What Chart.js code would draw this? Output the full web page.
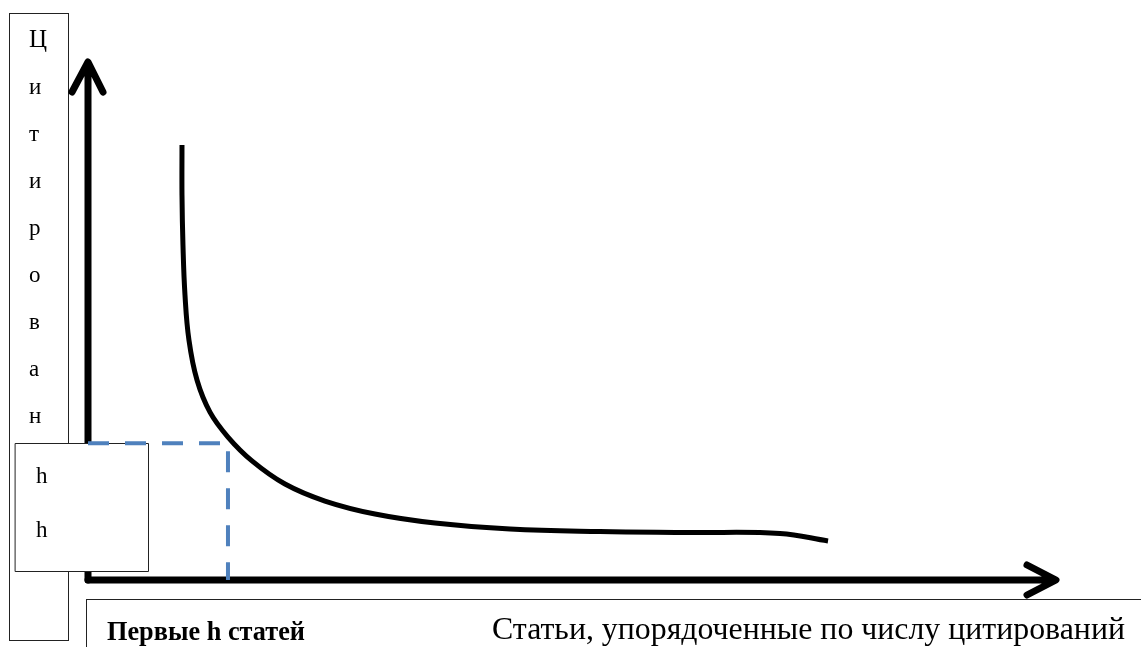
<!DOCTYPE html>
<html>
<head>
<meta charset="utf-8">
<script src="https://cdn.jsdelivr.net/npm/chart.js@4/dist/chart.umd.min.js"></script>
<style>
  body { margin: 0; background: #fff; }
  #wrap { width: 1141px; height: 647px; }
</style>
</head>
<body>
<div id="wrap"><canvas id="hChart" width="1141" height="647"></canvas></div>
<script>
const rankX = [9.71, 9.71, 9.81, 10.02, 10.43, 11.26, 12.6, 14.46, 16.94, 20.35, 24.48, 29.65, 35.85, 43.6, 52.89, 62.19, 71.49, 76.45];
const citations = [84.0, 74.3, 64.7, 55.0, 46.3, 38.6, 32.4, 27.6, 23.0, 18.53, 15.25, 12.74, 11.0, 9.85, 9.36, 9.17, 8.98, 7.53];
// the h point
const hRank = 14.46;
const hCites = 26.4;
// labels
const yLabelLetters = ['Ц', 'и', 'т', 'и', 'р', 'о', 'в', 'а', 'н'];
const hLetters = ['h', 'h'];
const firstLabel = 'Первые h статей';
const xLabel = 'Статьи, упорядоченные по числу цитирований';

function fitText(ctx, txt, x, y, w) {
    const m = ctx.measureText(txt).width;
    ctx.save();
    ctx.translate(x, y);
    ctx.scale(w / m, 1);
    ctx.fillText(txt, 0, 0);
    ctx.restore();
}

// boxes, labels and arrow axes, drawn under the datasets
const schemePlugin = {
    id: 'scheme',
    beforeDatasetsDraw(chart) {
        const ctx = chart.ctx;
        const xs = chart.scales.x, ys = chart.scales.y;
        const x0 = xs.getPixelForValue(0), y0 = ys.getPixelForValue(0);
        const xEnd = xs.getPixelForValue(100), yTop = ys.getPixelForValue(100);
        ctx.save();

        // vertical label box
        ctx.strokeStyle = '#222';
        ctx.lineWidth = 1;
        ctx.strokeRect(9.5, 13.5, 59, 627);
        ctx.fillStyle = '#000';
        ctx.textBaseline = 'alphabetic';
        yLabelLetters.forEach((l, i) => {
            ctx.font = (i === 0 ? '25px' : '23px') + ' "Liberation Serif", serif';
            ctx.fillText(l, 29, 47 + i * 47);
        });

        // bottom label box
        ctx.strokeRect(86.5, 599.5, 1100, 100);
        ctx.font = 'bold 28px "Liberation Serif", serif';
        fitText(ctx, firstLabel, 107, 640, 198);
        ctx.font = '31px "Liberation Serif", serif';
        fitText(ctx, xLabel, 492, 639, 633);

        // axes with arrows
        ctx.strokeStyle = '#000';
        ctx.lineWidth = 7;
        ctx.lineCap = 'round';
        ctx.lineJoin = 'round';
        ctx.beginPath();
        ctx.moveTo(x0, y0);
        ctx.lineTo(x0, yTop + 2);
        ctx.moveTo(x0 - 16, yTop + 30);
        ctx.lineTo(x0, yTop);
        ctx.lineTo(x0 + 15, yTop + 30);
        ctx.stroke();
        ctx.beginPath();
        ctx.moveTo(x0, y0);
        ctx.lineTo(xEnd - 2, y0);
        ctx.moveTo(xEnd - 29, y0 - 15);
        ctx.lineTo(xEnd, y0);
        ctx.lineTo(xEnd - 29, y0 + 15);
        ctx.stroke();

        // h box
        ctx.fillStyle = '#fff';
        ctx.fillRect(15, 443, 133, 128);
        ctx.strokeStyle = '#222';
        ctx.lineWidth = 1;
        ctx.strokeRect(15.5, 443.5, 133, 128);
        ctx.fillStyle = '#000';
        ctx.font = '23px "Liberation Serif", serif';
        hLetters.forEach((l, i) => ctx.fillText(l, 36, 483 + i * 54));

        ctx.restore();
    }
};

const ctx = document.getElementById('hChart').getContext('2d');
new Chart(ctx, {
    type: 'scatter',
    data: {
        datasets: [{
            label: 'h',
            data: [{ x: 0, y: hCites }, { x: hRank, y: hCites }, { x: hRank, y: 0 }],
            showLine: true,
            borderColor: '#4f81bd',
            borderWidth: 4,
            borderDash: [21, 16],
            pointRadius: 0,
            tension: 0
        }, {
            label: 'citations',
            data: rankX.map((x, i) => ({ x: x, y: citations[i] })),
            showLine: true,
            borderColor: '#000',
            borderWidth: 5,
            pointRadius: 0,
            tension: 0.4
        }]
    },
    options: {
        responsive: false,
        animation: false,
        layout: { padding: { left: 88, top: 62, right: 85, bottom: 67 } },
        plugins: { legend: { display: false }, tooltip: { enabled: false } },
        scales: {
            x: { type: 'linear', min: 0, max: 100, display: false },
            y: { type: 'linear', min: 0, max: 100, display: false }
        }
    },
    plugins: [schemePlugin]
});
</script>
</body>
</html>
